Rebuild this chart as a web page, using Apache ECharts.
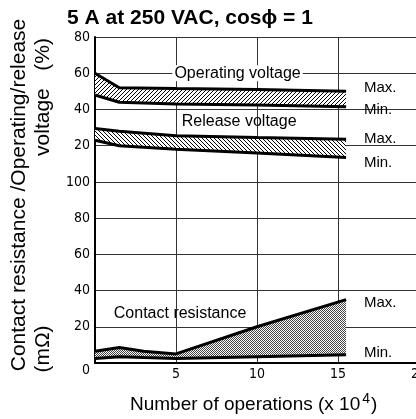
<!DOCTYPE html>
<html><head><meta charset="utf-8">
<script src="https://cdn.jsdelivr.net/npm/echarts@6/dist/echarts.min.js"></script>
<style>html,body{margin:0;padding:0;background:#fff}#c{width:416px;height:419px}</style>
</head><body><div id="c"></div>
<script>
// ---- data ----
const voltX = [0, 1.5, 5, 10, 15.5];
const opMax = [60, 52, 51.5, 51, 50];
const opMin = [48, 44, 43, 42.5, 41.5];
const relMax = [29.5, 28, 25.5, 24.5, 23.5];
const relMin = [23, 20, 18, 16, 13.5];
const crX = [0, 1.5, 3, 5, 10, 15.5];
const crMax = [6.5, 8.5, 6.5, 5, 20, 35];
const crMin = [2.5, 3.5, 3, 2.5, 3.5, 4.5];
const VOFF = 100; // voltage panel sits above resistance panel (0..100 mΩ)

const FONT = "'Liberation Sans', Arial, Helvetica, sans-serif";
const NARROW = "'Liberation Sans Narrow', 'DejaVu Sans Condensed', 'Liberation Sans', sans-serif";

function hatch(dir) {
  const s = 4, c = document.createElement('canvas');
  c.width = s; c.height = s;
  const g = c.getContext('2d');
  g.fillStyle = '#fff'; g.fillRect(0, 0, s, s);
  g.strokeStyle = '#000'; g.lineWidth = 1;
  g.beginPath();
  if (dir > 0) {
    g.moveTo(-1, s + 1); g.lineTo(s + 1, -1);
    g.moveTo(-1, 1); g.lineTo(1, -1);
    g.moveTo(s - 1, s + 1); g.lineTo(s + 1, s - 1);
  } else {
    g.moveTo(-1, -1); g.lineTo(s + 1, s + 1);
    g.moveTo(s - 1, -1); g.lineTo(s + 1, 1);
    g.moveTo(-1, s - 1); g.lineTo(1, s + 1);
  }
  g.stroke();
  return c;
}
function stipple() {
  const c = document.createElement('canvas');
  c.width = 2; c.height = 2;
  const g = c.getContext('2d');
  g.fillStyle = '#fff'; g.fillRect(0, 0, 2, 2);
  g.fillStyle = '#444'; g.fillRect(0, 0, 1, 1); g.fillRect(1, 1, 1, 1);
  return c;
}

// band between lo and hi drawn as polygon through the axis scales
function band(name, xsArr, lo, hi, off, pattern) {
  return { name: name, type: 'custom', silent: true, z: 1, clip: true,
    data: [0],
    renderItem: function (params, api) {
      const pts = [];
      for (let i = 0; i < xsArr.length; i++) pts.push(api.coord([xsArr[i], hi[i] + off]));
      for (let i = xsArr.length - 1; i >= 0; i--) pts.push(api.coord([xsArr[i], lo[i] + off]));
      return { type: 'polygon', shape: { points: pts },
        style: { fill: { image: pattern, repeat: 'repeat' }, stroke: null } };
    } };
}
function edge(name, xsArr, ys, off) {
  return { name: name, type: 'line', symbol: 'none', silent: true, z: 3,
    lineStyle: { color: '#000', width: 3 },
    data: xsArr.map((x, i) => [x, ys[i] + off]) };
}

const chart = echarts.init(document.getElementById('c'), null, { renderer: 'canvas' });
const option = {
  animation: false,
  backgroundColor: '#fff',
  title: { text: '5 A at 250 VAC, cos\u03D5 = 1', left: 62, top: 3,
    textStyle: { fontFamily: FONT, fontWeight: 'bold', fontSize: 21, color: '#000' } },
  grid: { left: 95, right: -3, top: 37, bottom: 56, containLabel: false, outerBoundsMode: 'none' },
  xAxis: { type: 'value', min: 0, max: 20, interval: 5,
    axisLine: { show: true, lineStyle: { color: '#000', width: 2 } },
    axisTick: { show: false },
    axisLabel: { color: '#000', fontFamily: NARROW, fontSize: 14, margin: 4,
      hideOverlap: false,
      formatter: v => (v === 0 ? '' : String(v)) },
    splitLine: { show: true, lineStyle: { color: '#333', width: 1 } } },
  yAxis: { type: 'value', min: 0, max: 180, interval: 20,
    axisLine: { show: true, lineStyle: { color: '#000', width: 2 } },
    axisTick: { show: false },
    axisLabel: { color: '#000', fontFamily: NARROW, fontSize: 14, margin: 5,
      formatter: v => (v === 0 ? '{z|0}' : String(v > VOFF ? v - VOFF : v)),
      rich: { z: { fontFamily: NARROW, fontSize: 14, color: '#000', padding: [14, 0, 0, 0] } } },
    splitLine: { show: true, lineStyle: { color: '#333', width: 1 } } },
  series: [
    band('op', voltX, opMin, opMax, VOFF, hatch(1)),
    band('rel', voltX, relMin, relMax, VOFF, hatch(-1)),
    band('cr', crX, crMin, crMax, 0, stipple()),
    edge('opMax', voltX, opMax, VOFF), edge('opMin', voltX, opMin, VOFF),
    edge('relMax', voltX, relMax, VOFF), edge('relMin', voltX, relMin, VOFF),
    edge('crMax', crX, crMax, 0), edge('crMin', crX, crMin, 0)
  ]
};
chart.setOption(option);

// ---- annotations positioned through the axes ----
const P = (x, y) => chart.convertToPixel({ gridIndex: 0 }, [x, y]);
const txt = (text, pt, size, align, extra) => Object.assign({
  type: 'text', x: pt[0], y: pt[1], z: 10,
  style: Object.assign({ text: text, fill: '#000', font: size + 'px ' + FONT,
    textAlign: align, textVerticalAlign: 'middle' }, extra || {})
});
const labels = [
  { t: 'Operating voltage', x: 8.8, y: 60 + VOFF, bg: true },
  { t: 'Release voltage', x: 8.9, y: 33.5 + VOFF },
  { t: 'Contact resistance', x: 5.25, y: 27.5 }
];
const mm = [
  { t: 'Max.', y: 52 + VOFF }, { t: 'Min.', y: 40 + VOFF },
  { t: 'Max.', y: 23.8 + VOFF }, { t: 'Min.', y: 10.5 + VOFF },
  { t: 'Max.', y: 33.3 }, { t: 'Min.', y: 5.5 }
];
const g = [];
labels.forEach(l => g.push(txt(l.t, P(l.x, l.y), 16, 'center',
  l.bg ? { backgroundColor: '#fff', padding: [0, 2] } : null)));
mm.forEach(m => g.push(txt(m.t, P(16.6, m.y), 15, 'left')));

// rotated y-axis titles
g.push({ type: 'text', x: 19, y: 195, rotation: Math.PI / 2,
  style: { text: 'Contact resistance /Operating/release', fill: '#000', font: '21px ' + FONT,
    textAlign: 'center', textVerticalAlign: 'middle' } });
g.push({ type: 'text', x: 43, y: 97, rotation: Math.PI / 2,
  style: { text: 'voltage   (%)', fill: '#000', font: '21px ' + FONT,
    textAlign: 'center', textVerticalAlign: 'middle' } });
g.push({ type: 'text', x: 43, y: 349, rotation: Math.PI / 2,
  style: { text: '(m\u03A9)', fill: '#000', font: '21px ' + FONT,
    textAlign: 'center', textVerticalAlign: 'middle' } });

// x-axis title with superscript
const mc = document.createElement('canvas').getContext('2d');
const xName = 'Number of operations (x 10';
mc.font = '19px ' + FONT;
const w1 = mc.measureText(xName).width;
mc.font = '14px ' + FONT;
const w2 = mc.measureText('4').width;
const x0 = 130;
g.push({ type: 'text', x: x0, y: 405, style: { text: xName, fill: '#000', font: '19px ' + FONT, textAlign: 'left', textVerticalAlign: 'middle' } });
g.push({ type: 'text', x: x0 + w1 + 2, y: 399, style: { text: '4', fill: '#000', font: '14px ' + FONT, textAlign: 'left', textVerticalAlign: 'middle' } });
g.push({ type: 'text', x: x0 + w1 + 3 + w2, y: 405, style: { text: ')', fill: '#000', font: '19px ' + FONT, textAlign: 'left', textVerticalAlign: 'middle' } });

chart.setOption({ graphic: g });
</script></body></html>
